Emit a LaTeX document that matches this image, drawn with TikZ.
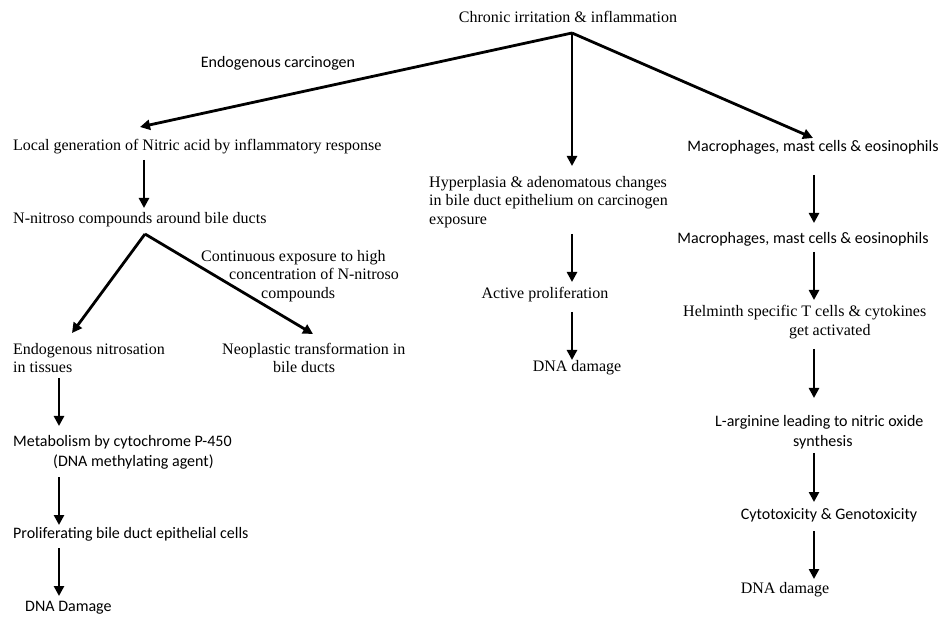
\documentclass[tikz,border=0pt]{standalone}
\usepackage{fontspec}
\setmainfont{Liberation Serif}
\newfontfamily\calibri{Carlito}
\usetikzlibrary{arrows.meta}
\begin{document}
\begin{tikzpicture}[x=1pt,y=-1pt,
  serif/.style={font=\fontsize{16}{18.5}\selectfont, inner sep=0pt},
  sans/.style={font=\calibri\fontsize{16}{20}\selectfont, inner sep=0pt},
  arr/.style={line width=2.8pt, -{Triangle[length=10pt,width=10pt]}}]
\useasboundingbox (0,0) rectangle (940,617);
% texts
\node[serif] (chronic) at (568,17) {Chronic irritation \& inflammation};
\node[sans] (endo) at (278,63) {Endogenous carcinogen};
\node[serif, anchor=west] (local) at (13,147) {Local generation of Nitric acid by inflammatory response};
\node[serif, anchor=west] (nnit) at (13,220) {N-nitroso compounds around bile ducts};
\node[serif, anchor=west, align=left] (cont) at (201,276) {Continuous exposure to high\\\hspace*{28pt}concentration of N-nitroso\\\hspace*{60pt}compounds};
\node[serif, anchor=west, align=left] (endonit) at (13,358) {Endogenous nitrosation\\in tissues};
\node[serif, anchor=west, align=left] (neo) at (222,358) {Neoplastic transformation in\\\hspace*{51pt}bile ducts};
\node[sans, anchor=west, align=left] (metab) at (13,452) {Metabolism by cytochrome P-450\\\hspace*{40pt}(DNA methylating agent)};
\node[sans, anchor=west] (prolif) at (13,534) {Proliferating bile duct epithelial cells};
\node[sans, anchor=west] (dnal) at (25,608) {DNA Damage};
\node[serif, anchor=west, align=left] (hyper) at (429,202) {Hyperplasia \& adenomatous changes\\in bile duct epithelium on carcinogen\\exposure};
\node[serif] (active) at (545,295) {Active proliferation};
\node[serif] (dnam) at (577,368) {DNA damage};
\node[sans] (mac1) at (813,147) {Macrophages, mast cells \& eosinophils};
\node[sans] (mac2) at (803,239) {Macrophages, mast cells \& eosinophils};
\node[serif, anchor=west, align=left] (helm) at (683,322) {Helminth specific T cells \& cytokines\\\hspace*{106pt}get activated};
\node[sans, anchor=west, align=left] (larg) at (715,432) {L-arginine leading to nitric oxide\\\hspace*{78pt}synthesis};
\node[sans] (cyto) at (829,515) {Cytotoxicity \& Genotoxicity};
\node[serif] (dnar) at (785,590) {DNA damage};
% connector end points
\coordinate (apex) at (572,33);
\coordinate (localin) at (140,127);
\coordinate (hyperin) at (572,166);
\coordinate (mac1in) at (813,138);
\coordinate (localout) at (144,160);
\coordinate (nnitin) at (144,208);
\coordinate (fork) at (145,234);
\coordinate (endonitin) at (72,333);
\coordinate (neoin) at (313,334);
\coordinate (endonitout) at (59,378);
\coordinate (metabin) at (59,426);
\coordinate (metabout) at (59,477);
\coordinate (prolifin) at (59,525);
\coordinate (prolifout) at (59,548);
\coordinate (dnalin) at (59,596);
\coordinate (hyperout) at (572,234);
\coordinate (activein) at (572,282);
\coordinate (activeout) at (572,312);
\coordinate (dnamin) at (572,360);
\coordinate (mac1out) at (814,175);
\coordinate (mac2in) at (814,223);
\coordinate (mac2out) at (814,252);
\coordinate (helmin) at (814,300);
\coordinate (helmout) at (814,349);
\coordinate (largin) at (814,398);
\coordinate (largout) at (814,453);
\coordinate (cytoin) at (814,502);
\coordinate (cytoout) at (814,531);
\coordinate (dnarin) at (814,579);
% connectors from chronic
\draw[arr] (apex) -- (localin);
\draw[arr] (apex) -- (hyperin);
\draw[arr] (apex) -- (mac1in);
% left branch
\draw[arr] (localout) -- (nnitin);
\draw[arr] (fork) -- (endonitin);
\draw[arr] (fork) -- (neoin);
\draw[arr] (endonitout) -- (metabin);
\draw[arr] (metabout) -- (prolifin);
\draw[arr] (prolifout) -- (dnalin);
% middle
\draw[arr] (hyperout) -- (activein);
\draw[arr] (activeout) -- (dnamin);
% right
\draw[arr] (mac1out) -- (mac2in);
\draw[arr] (mac2out) -- (helmin);
\draw[arr] (helmout) -- (largin);
\draw[arr] (largout) -- (cytoin);
\draw[arr] (cytoout) -- (dnarin);
\end{tikzpicture}
\end{document}
